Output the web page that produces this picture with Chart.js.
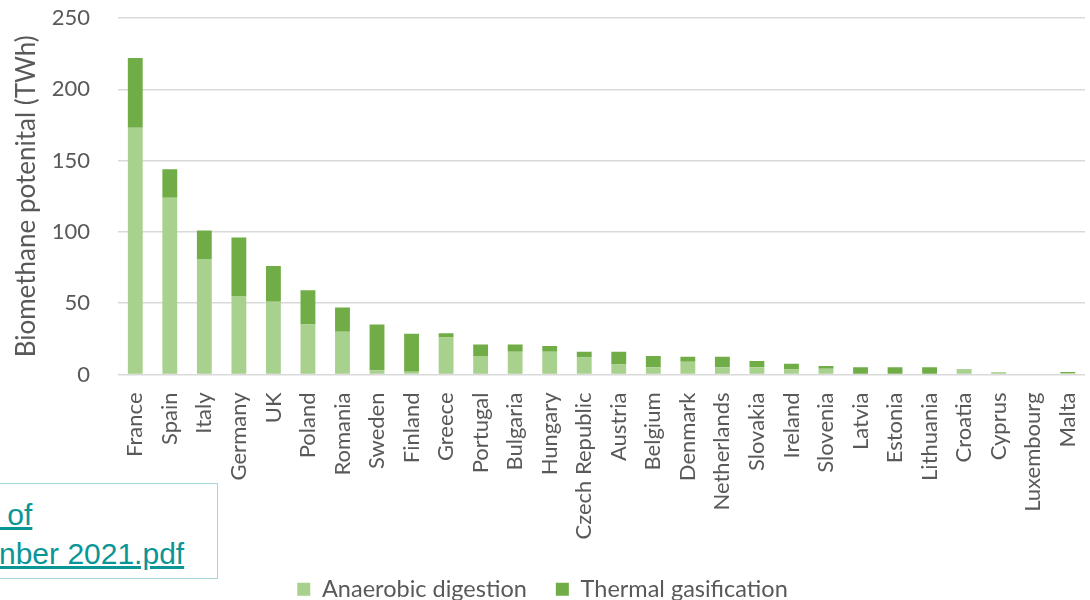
<!DOCTYPE html>
<html>
<head>
<meta charset="utf-8">
<script src="https://cdn.jsdelivr.net/npm/chart.js@4"></script>
<style>
  html, body { margin: 0; padding: 0; background: #fff; }
  #wrap { position: relative; width: 1090px; height: 600px; overflow: hidden; }
  #source {
    position: absolute; left: -2px; top: 483px; width: 218px; height: 94px;
    border: 1.5px solid #a9d6d9; background: #fff;
    font-family: "Liberation Sans", Arial, sans-serif; font-size: 30px; line-height: 39px;
    color: #0a9696; white-space: pre; overflow: hidden;
  }
  #source span { text-decoration: underline; display: block; }
</style>
</head>
<body>
<div id="wrap">
  <canvas id="myChart" width="1090" height="600"></canvas>
  <div id="source"><span style="margin-top:11px"> of</span><span>nber 2021.pdf</span></div>
</div>
<script>
const countries = ['France', 'Spain', 'Italy', 'Germany', 'UK', 'Poland', 'Romania', 'Sweden',
    'Finland', 'Greece', 'Portugal', 'Bulgaria', 'Hungary', 'Czech Republic', 'Austria', 'Belgium',
    'Denmark', 'Netherlands', 'Slovakia', 'Ireland', 'Slovenia', 'Latvia', 'Estonia', 'Lithuania',
    'Croatia', 'Cyprus', 'Luxembourg', 'Malta'];
const anaerobic = [173, 124, 81, 55, 51, 35, 30, 3, 2, 26, 13, 16, 16, 12, 7, 5,
    9, 5, 5, 3.5, 4, 0.5, 0.5, 0.5, 3.5, 1.5, 0, 1];
const thermal = [49, 20, 20, 41, 25, 24, 17, 32, 26.5, 3, 8, 5, 4, 4, 9, 8,
    3.5, 7.5, 4.5, 4, 2, 4.5, 4.5, 4.5, 0.3, 0.3, 0, 0.8];
const yTicks = [0, 50, 100, 150, 200, 250];

const textColor = '#595959';
const fontName = 'Lato, "Open Sans", sans-serif';

const ctx = document.getElementById("myChart").getContext("2d");
let myChart = new Chart(ctx, {
    type: 'bar',
    data: {
        labels: countries,
        datasets: [{
            label: 'Anaerobic digestion',
            data: anaerobic,
            backgroundColor: '#a9d18e',
        }, {
            label: 'Thermal gasification',
            data: thermal,
            backgroundColor: '#70ad47',
        }],
    },
    options: {
        responsive: false,
        animation: false,
        layout: { padding: { top: 18, right: 5, left: 0, bottom: -11 } },
        datasets: { bar: { categoryPercentage: 1, barPercentage: 0.43, borderWidth: 0 } },
        plugins: {
            legend: {
                position: 'bottom',
                labels: {
                    color: textColor,
                    font: { family: fontName, size: 23.5 },
                    boxWidth: 13, boxHeight: 13,
                    padding: 29,
                },
            },
            tooltip: { enabled: false },
        },
        scales: {
            x: {
                stacked: true,
                grid: { display: false },
                border: { display: false },
                ticks: {
                    color: textColor,
                    font: { family: fontName, size: 22 },
                    minRotation: 90, maxRotation: 90,
                    autoSkip: false,
                    padding: 10,
                },
                afterFit: (scale) => {
                    scale.height = 174;
                    scale.paddingLeft = 0;
                    scale.paddingRight = 0;
                },
            },
            y: {
                stacked: true,
                min: 0, max: 250,
                afterBuildTicks: (scale) => { scale.ticks = yTicks.map(v => ({ value: v })); },
                grid: { color: '#d9d9d9', lineWidth: 1.5, drawTicks: false },
                border: { display: false },
                ticks: {
                    color: textColor,
                    font: { family: fontName, size: 22 },
                    padding: 28,
                },
                title: {
                    display: true,
                    text: 'Biomethane potenital (TWh)',
                    color: textColor,
                    font: { family: fontName, size: 26 },
                    padding: { top: 11, bottom: 0 },
                },
                afterFit: (scale) => {
                    scale.width = 118;
                    scale.paddingTop = 0;
                    scale.paddingBottom = 0;
                },
            },
        },
    },
});
</script>
</body>
</html>
